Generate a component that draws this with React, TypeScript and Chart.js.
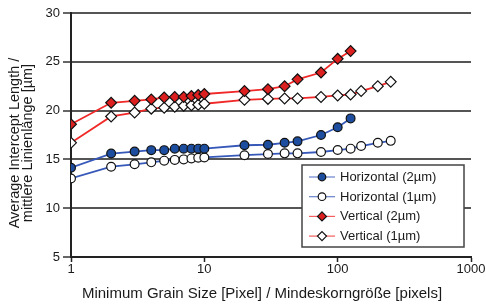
import React, { useEffect, useRef } from 'react';
import { Chart, registerables } from 'chart.js';

Chart.register(...registerables);

const FONT = "'Liberation Sans', Arial, Helvetica, sans-serif";

// x values (minimum grain size, pixels)
const xShort = [1, 2, 3, 4, 5, 6, 7, 8, 9, 10, 20, 30, 40, 50, 75, 100, 125];
const xLong = [1, 2, 3, 4, 5, 6, 7, 8, 9, 10, 20, 30, 40, 50, 75, 100, 125, 150, 200, 250];

// series values (average intercept length, µm)
const horizontal2 = [14.15, 15.6, 15.8, 15.95, 15.95, 16.1, 16.1, 16.1, 16.1, 16.1, 16.45, 16.5, 16.7, 16.85, 17.5, 18.3, 19.2];
const horizontal1 = [13.05, 14.25, 14.5, 14.7, 14.87, 14.95, 15.0, 15.1, 15.17, 15.2, 15.43, 15.55, 15.62, 15.62, 15.76, 15.96, 16.1, 16.37, 16.7, 16.9];
const vertical2 = [18.6, 20.8, 21.0, 21.15, 21.35, 21.4, 21.4, 21.5, 21.6, 21.7, 22.0, 22.2, 22.5, 23.2, 23.9, 25.3, 26.1];
const vertical1 = [16.7, 19.4, 19.8, 20.2, 20.3, 20.4, 20.5, 20.55, 20.6, 20.7, 21.1, 21.2, 21.25, 21.25, 21.4, 21.55, 21.65, 22.0, 22.5, 22.95];

const seriesLabels = ['Horizontal (2µm)', 'Horizontal (1µm)', 'Vertical (2µm)', 'Vertical (1µm)'];

// axis ticks
const xTicks = [1, 10, 100, 1000];
const xTickLabels = ['1', '10', '100', '1000'];
const yMin = 5;
const yMax = 30;
const yStep = 5;

const xTitle = 'Minimum Grain Size [Pixel] / Mindeskorngröße [pixels]';
const yTitle = ['Average Intercept Length /', 'mittlere Linienlänge [µm]'];

const BLUE_LINE = '#3658b8';
const BLUE_FILL = '#1c4d9e';
const RED_LINE = '#f02828';
const RED_FILL = '#dc1f1f';

const toPoints = (xs: number[], ys: number[]) => ys.map((y, i) => ({ x: xs[i], y }));

function drawMarker(ctx: CanvasRenderingContext2D, style: string, x: number, y: number, r: number, fill: string) {
  ctx.beginPath();
  if (style === 'rectRot') {
    ctx.moveTo(x, y - r);
    ctx.lineTo(x + r, y);
    ctx.lineTo(x, y + r);
    ctx.lineTo(x - r, y);
    ctx.closePath();
  } else {
    ctx.arc(x, y, r, 0, Math.PI * 2);
  }
  ctx.fillStyle = fill;
  ctx.fill();
  ctx.lineWidth = 1.2;
  ctx.strokeStyle = '#111';
  ctx.stroke();
}

const boxLegend = {
  id: 'boxLegend',
  afterDraw(chart: any) {
    const ctx: CanvasRenderingContext2D = chart.ctx;
    const { right, bottom } = chart.chartArea;
    const w = 162;
    const h = 82;
    const x0 = right - 7 - w;
    const y0 = bottom - 10 - h;
    ctx.save();
    ctx.fillStyle = '#fff';
    ctx.fillRect(x0, y0, w, h);
    ctx.lineWidth = 1.5;
    ctx.strokeStyle = '#444';
    ctx.strokeRect(x0, y0, w, h);
    chart.data.datasets.forEach((ds: any, i: number) => {
      const cy = y0 + 12 + i * 19.7;
      ctx.beginPath();
      ctx.moveTo(x0 + 7, cy);
      ctx.lineTo(x0 + 33, cy);
      ctx.lineWidth = 1.2;
      ctx.strokeStyle = ds.borderColor;
      ctx.globalAlpha = 0.75;
      ctx.stroke();
      ctx.globalAlpha = 1;
      drawMarker(ctx, ds.pointStyle, x0 + 20, cy, ds.pointStyle === 'rectRot' ? 4.5 : 3.8, ds.pointBackgroundColor);
      ctx.fillStyle = '#1a1a1a';
      ctx.font = `13px ${FONT}`;
      ctx.textAlign = 'left';
      ctx.textBaseline = 'middle';
      ctx.fillText(ds.label, x0 + 38, cy + 0.5);
    });
    ctx.restore();
  },
};

const axisTitles = {
  id: 'axisTitles',
  afterDraw(chart: any) {
    const ctx: CanvasRenderingContext2D = chart.ctx;
    const { left, right, top, bottom } = chart.chartArea;
    ctx.save();
    ctx.fillStyle = '#1a1a1a';
    ctx.textAlign = 'center';
    ctx.textBaseline = 'middle';
    ctx.font = `15px ${FONT}`;
    ctx.fillText(xTitle, (left + right) / 2 - 9, chart.height - 11);
    ctx.font = `14.5px ${FONT}`;
    const cy = (top + bottom) / 2 + 8;
    yTitle.forEach((line, i) => {
      ctx.save();
      ctx.translate(14.5 + i * 13.5, cy);
      ctx.rotate(-Math.PI / 2);
      ctx.fillText(line, 0, 0);
      ctx.restore();
    });
    ctx.restore();
  },
};

export default function App() {
  const canvasRef = useRef<HTMLCanvasElement | null>(null);

  useEffect(() => {
    if (!canvasRef.current) return;
    const mk = (label: string, xs: number[], ys: number[], line: string, fill: string, style: string, r: number) => ({
      label,
      data: toPoints(xs, ys),
      borderColor: line,
      backgroundColor: line,
      borderWidth: 1.8,
      pointStyle: style,
      pointRadius: r,
      pointHoverRadius: r,
      pointBackgroundColor: fill,
      pointBorderColor: '#111',
      pointBorderWidth: 1.2,
      tension: 0,
      fill: false,
    });
    const chart = new Chart(canvasRef.current, {
      type: 'line',
      data: {
        datasets: [
          mk(seriesLabels[0], xShort, horizontal2, BLUE_LINE, BLUE_FILL, 'circle', 4.4),
          mk(seriesLabels[1], xLong, horizontal1, BLUE_LINE, '#ffffff', 'circle', 4.4),
          mk(seriesLabels[2], xShort, vertical2, RED_LINE, RED_FILL, 'rectRot', 5.4),
          mk(seriesLabels[3], xLong, vertical1, RED_LINE, '#ffffff', 'rectRot', 5.4),
        ],
      } as any,
      options: {
        animation: false,
        responsive: false,
        devicePixelRatio: 1,
        layout: { padding: { left: 0, top: 13, right: 15, bottom: 0 } },
        plugins: {
          legend: { display: false },
          tooltip: { enabled: false },
        },
        font: { family: FONT },
        scales: {
          x: {
            type: 'logarithmic',
            min: 1,
            max: 1000,
            afterBuildTicks: (scale: any) => {
              scale.ticks = xTicks.map((v) => ({ value: v }));
            },
            afterFit: (scale: any) => {
              scale.height = 48;
            },
            ticks: {
              autoSkip: false,
              maxRotation: 0,
              padding: 0,
              color: '#1a1a1a',
              font: { family: FONT, size: 13 },
              callback: (v: any) => {
                const i = xTicks.indexOf(Number(v));
                return i >= 0 ? xTickLabels[i] : '';
              },
            },
            grid: {
              display: true,
              drawOnChartArea: false,
              drawTicks: true,
              tickLength: 5,
              tickColor: '#222',
              tickWidth: 1.5,
            },
            border: { display: true, color: '#222', width: 2 },
            title: { display: false },
          },
          y: {
            type: 'linear',
            min: yMin,
            max: yMax,
            afterFit: (scale: any) => {
              scale.width = 71;
            },
            ticks: {
              stepSize: yStep,
              padding: 3,
              color: '#1a1a1a',
              font: { family: FONT, size: 13 },
            },
            grid: {
              color: '#555',
              lineWidth: 2,
              drawTicks: true,
              tickLength: 8,
              tickColor: '#333',
              tickWidth: 1.5,
            },
            border: { display: true, color: '#222', width: 2 },
            title: { display: false },
          },
        },
      } as any,
      plugins: [boxLegend, axisTitles],
    });
    return () => chart.destroy();
  }, []);

  return (
    <div style={{ position: 'absolute', left: 0, top: 0, width: 486, height: 305, background: '#fff' }}>
      <canvas ref={canvasRef} width={486} height={305} style={{ display: 'block', width: 486, height: 305 }} />
    </div>
  );
}
